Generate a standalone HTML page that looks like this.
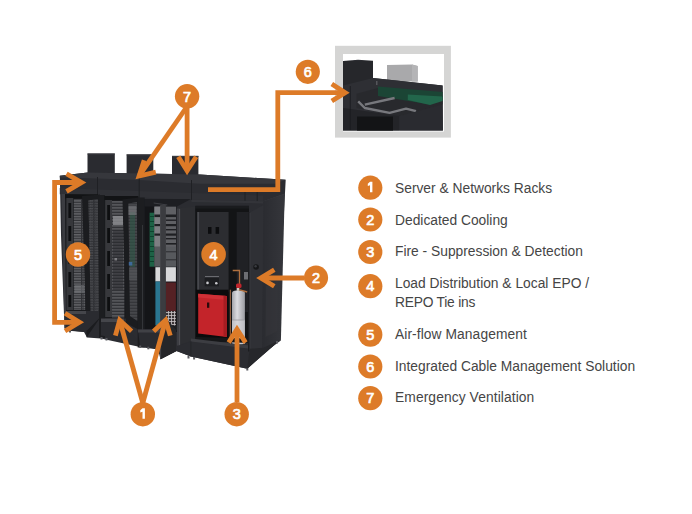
<!DOCTYPE html>
<html><head><meta charset="utf-8">
<style>
html,body{margin:0;padding:0;background:#fff;width:692px;height:514px;overflow:hidden}
svg{position:absolute;left:0;top:0}
.t{position:absolute;left:395px;font:13.8px "Liberation Sans",sans-serif;color:#454545;white-space:nowrap;line-height:18.8px}
</style></head><body>
<svg width="692" height="514" viewBox="0 0 692 514">
<defs>
  <pattern id="srv" width="8" height="3.2" patternUnits="userSpaceOnUse">
    <rect width="8" height="3.2" fill="#2e2f33"/>
    <rect y="0.3" width="8" height="1.3" fill="#76777b"/>
  </pattern>
  <pattern id="srv2" width="8" height="4" patternUnits="userSpaceOnUse">
    <rect width="8" height="4" fill="#34353a"/>
    <rect y="0.5" width="8" height="1.4" fill="#66676b"/>
  </pattern>
  <pattern id="srvA" width="12" height="2.6" patternUnits="userSpaceOnUse">
    <rect width="12" height="2.6" fill="#313236"/>
    <rect y="0.2" width="9" height="1.1" fill="#707175"/>
    <rect x="10" y="0.2" width="2" height="1.1" fill="#55565a"/>
  </pattern>
  <pattern id="srvB" width="12" height="3" patternUnits="userSpaceOnUse">
    <rect width="12" height="3" fill="#323337"/>
    <rect y="0.3" width="12" height="1.2" fill="#626367"/>
  </pattern>
  <pattern id="perf" width="2.5" height="2.5" patternUnits="userSpaceOnUse">
    <rect width="2.5" height="2.5" fill="#2c2d31"/>
    <rect width="1.2" height="1.2" fill="#44454a"/>
  </pattern>
  <pattern id="basket" width="3" height="3" patternUnits="userSpaceOnUse">
    <rect width="3" height="3" fill="#3a3436"/>
    <rect width="0.8" height="3" fill="#c9c4c6"/>
    <rect width="3" height="0.8" fill="#c9c4c6"/>
  </pattern>
  <linearGradient id="cyl" x1="0" x2="1" y1="0" y2="0">
    <stop offset="0" stop-color="#a4a5aa"/><stop offset="0.4" stop-color="#dcdce0"/><stop offset="1" stop-color="#9a9ba0"/>
  </linearGradient>
  <linearGradient id="side" x1="0" x2="1" y1="0" y2="0">
    <stop offset="0" stop-color="#2a2b30"/><stop offset="1" stop-color="#35363b"/>
  </linearGradient>
  <linearGradient id="red" x1="0" x2="1" y1="0" y2="0">
    <stop offset="0" stop-color="#c8232a"/><stop offset="0.8" stop-color="#c2212a"/><stop offset="1" stop-color="#9e1a20"/>
  </linearGradient>
  <linearGradient id="door1" x1="0" x2="0" y1="0" y2="1">
    <stop offset="0" stop-color="#3a3b40"/><stop offset="0.75" stop-color="#323338"/><stop offset="1" stop-color="#222327"/>
  </linearGradient>
</defs>

<!-- chimneys -->
<g fill="#2a2b30">
<rect x="87.5" y="153.5" width="27.3" height="22"/>
<rect x="126.6" y="154.4" width="26.7" height="24"/>
<rect x="172" y="155.9" width="26.4" height="24"/>
</g>
<g fill="#3a3b40">
<rect x="87.5" y="153.5" width="27.3" height="1"/>
<rect x="126.6" y="154.4" width="26.7" height="1"/>
<rect x="172" y="155.9" width="26.4" height="1"/>
</g>

<!-- main body silhouette -->
<polygon points="59.8,175.8 87.5,172.5 200,174.5 285.7,179.8 280.9,270 278.9,340.5 276.7,343 247.3,368.7 190.9,356.5 176.5,351 160.5,359.2 158,349.5 140,347 124,343.5 101,338.5 87,337.5 84,332 66,330.5 64.5,328 61,235" fill="#2b2c31"/>

<!-- top surface -->
<polygon points="59.8,175.8 87.5,172.5 200,174.5 285.7,179.8 275,183.8 200,183.8 139,180 97,178.5 59.8,177.5" fill="#36373c"/>
<!-- header band lower lip -->
<polygon points="59.8,188 138,191 263,195.5 263,201.2 191,199.8 138,197.5 59.8,194.3" fill="#2f3035"/>
<polygon points="263.3,201.2 284.7,193.5 285,196 265,204" fill="#3b3c41"/>
<g stroke="#1f2024" stroke-width="1">
<line x1="97.5" y1="177" x2="97.5" y2="195"/>
<line x1="139.2" y1="178" x2="139.2" y2="198"/>
<line x1="191.5" y1="180" x2="191.5" y2="200"/>
<line x1="245" y1="190" x2="245" y2="201"/>
<line x1="257.2" y1="190" x2="257.2" y2="202"/>
</g>

<!-- ===== module 1 ===== -->
<polygon points="61.5,194 65,194 66,330 64.5,328" fill="#3b3c41"/>
<polygon points="65,194.3 97.5,195.2 99,311 66,311" fill="#1a1b1e"/>
<rect x="65" y="194.3" width="33" height="4" fill="#121315"/>
<rect x="66.4" y="198" width="6.8" height="112" fill="#36373b"/>
<g fill="#0e0f11">
<rect x="68.4" y="203" width="2.8" height="15"/><rect x="68.4" y="226" width="2.8" height="15"/>
<rect x="68.4" y="249" width="2.8" height="15"/><rect x="68.4" y="272" width="2.8" height="15"/>
<rect x="68.4" y="295" width="2.8" height="12"/>
</g>
<rect x="73.8" y="199" width="11.5" height="111" fill="url(#srvA)"/>
<rect x="74.5" y="243" width="10" height="20" fill="#2a2b2e" opacity="0.6"/>
<rect x="74.5" y="285" width="10" height="8" fill="#7a7b7f" opacity="0.5"/>
<!-- door 1 -->
<polygon points="82,196 100,194.5 101,316.5 86.6,337.6" fill="#1b1c1f"/>
<polygon points="88.5,200.5 97.8,199 98.6,310 91,324" fill="url(#srvA)"/>
<polygon points="88.5,200.5 97.8,199 98.6,310 91,324" fill="url(#perf)" opacity="0.55"/>
<!-- module 1 plinth -->
<polygon points="64.5,311 99,311 101,316.5 87.5,330 84,332 66,330" fill="#2a2b30"/>
<polygon points="65,311 86,311 86,314 65,314" fill="#45464b"/>
<rect x="69" y="330" width="2" height="2.5" fill="#5a5b60"/>

<!-- ===== module 2 ===== -->
<rect x="99" y="195" width="6" height="143" fill="#1c1d20"/>
<polygon points="104.3,196 137.7,197.5 138.5,318.6 104.3,318.6" fill="#1a1b1e"/>
<rect x="104.3" y="196" width="34" height="4" fill="#121315"/>
<rect x="105.2" y="200" width="6.8" height="117" fill="#37383c"/>
<g fill="#0e0f11">
<rect x="107.2" y="205" width="2.8" height="15"/><rect x="107.2" y="228" width="2.8" height="15"/>
<rect x="107.2" y="251" width="2.8" height="15"/><rect x="107.2" y="274" width="2.8" height="15"/>
<rect x="107.2" y="297" width="2.8" height="14"/>
</g>
<rect x="112" y="201" width="12.3" height="117" fill="url(#srvB)"/>
<rect x="113" y="216" width="10" height="9" fill="#8d8e92" opacity="0.8"/>
<rect x="113" y="230" width="10" height="60" fill="#28292c" opacity="0.45"/>
<rect x="114.5" y="258" width="2.5" height="2.5" fill="#9a9a9e" opacity="0.7"/>
<!-- door 2 -->
<polygon points="122.5,199.5 139,197.5 139.4,330 126,323" fill="#1b1c1f"/>
<polygon points="128.4,203.5 137,202 137.4,321 130,316" fill="#38393d"/>
<polygon points="128.4,203.5 137,202 137.4,321 130,316" fill="url(#srvB)" opacity="0.5"/>
<rect x="130" y="212" width="5" height="55" fill="#2f5847" opacity="0.6"/>
<rect x="128.5" y="206" width="8" height="9" fill="#7d7e82" opacity="0.6"/>
<rect x="128.8" y="262" width="3.5" height="3.5" fill="#3f6fa8" opacity="0.85"/>
<rect x="129" y="268" width="8" height="12" fill="#5a5b5f" opacity="0.5"/>
<!-- module 2 plinth -->
<polygon points="104.3,318.6 124,318.6 124,326 139.4,341.4 101,335.6 101,318.6" fill="#2a2b30"/>
<polygon points="101,318.6 124,318.6 124,322 101,322" fill="#45464b"/>
<rect x="100.5" y="337" width="2" height="2.5" fill="#5a5b60"/>
<rect x="105.5" y="338" width="2" height="2.5" fill="#5a5b60"/>

<!-- ===== module 3 ===== -->
<rect x="137.7" y="197.5" width="7" height="150" fill="#1c1d20"/>
<line x1="142.5" y1="225" x2="142.5" y2="330" stroke="#3a3b40" stroke-width="0.8"/>
<polygon points="144.5,199 177,199 177,332 144.5,332" fill="#141518"/>
<polygon points="144.5,199 191,199 177,206.6 144.5,206.6" fill="#1d1e22"/>
<line x1="153.7" y1="203" x2="167.3" y2="205" stroke="#45464b" stroke-width="0.8"/>
<rect x="149.6" y="212.7" width="4.8" height="54" fill="#1e6246"/>
<g fill="#0e3f2c"><rect x="149.6" y="216" width="4.8" height="0.9"/><rect x="149.6" y="221" width="4.8" height="0.9"/><rect x="149.6" y="226" width="4.8" height="0.9"/><rect x="149.6" y="231" width="4.8" height="0.9"/><rect x="149.6" y="236" width="4.8" height="0.9"/><rect x="149.6" y="241" width="4.8" height="0.9"/><rect x="149.6" y="246" width="4.8" height="0.9"/><rect x="149.6" y="251" width="4.8" height="0.9"/><rect x="149.6" y="256" width="4.8" height="0.9"/><rect x="149.6" y="261" width="4.8" height="0.9"/></g>
<rect x="154.4" y="206.6" width="21.8" height="60" fill="#5f6064"/>
<rect x="154.4" y="206.6" width="6.1" height="40" fill="#7d7e82"/>
<g fill="#1e1f22">
  <rect x="154.4" y="214.5" width="21.8" height="2.6"/>
  <rect x="154.4" y="224" width="21.8" height="2.2"/>
  <rect x="154.4" y="233.5" width="21.8" height="2.2"/>
  <rect x="166" y="219.5" width="10.2" height="1.4"/>
  <rect x="166" y="229" width="10.2" height="1.4"/>
  <rect x="166" y="238" width="10.2" height="1.4"/>
  <rect x="166" y="243" width="10.2" height="1.6"/>
  <rect x="166" y="251" width="10.2" height="1.4"/>
  <rect x="166" y="259" width="10.2" height="1.4"/>
</g>
<rect x="154.4" y="246.6" width="21.8" height="20" fill="#505155" opacity="0.5"/>
<rect x="155.4" y="267.2" width="20.5" height="14.3" fill="#d8d8da"/>
<rect x="155.4" y="281.5" width="4.7" height="44" fill="#2a7590"/>
<polygon points="165.7,282.5 175.9,282.5 175.9,311 165.7,311" fill="#552124"/>
<rect x="165.7" y="311" width="10.2" height="16.5" fill="url(#basket)"/>
<rect x="159" y="325.5" width="18" height="5" fill="#1c1d20"/>
<!-- module 3 plinth -->
<polygon points="138,329.5 160,329.5 160,349 140,346.5" fill="#2a2b30"/>
<polygon points="138,329.5 160,329.5 160,332.5 138,332.5" fill="#404146"/>
<rect x="139.2" y="345.5" width="2" height="2.5" fill="#5a5b60"/>
<rect x="147.3" y="346.8" width="2" height="2.5" fill="#5a5b60"/>
<!-- door 3a (thin) -->
<polygon points="160.1,205 165.9,205 165.9,327.5 176,330 176.5,351 160.5,359.2" fill="#3b3c40"/>
<polygon points="165.9,318 176,330 176.5,351 160.5,359.2 160.3,335" fill="#252629"/>
<line x1="160.6" y1="206" x2="160.6" y2="358" stroke="#46474c" stroke-width="0.9"/>
<!-- door 3b -->
<polygon points="176.9,208.6 195.3,206.5 195.3,339.8 176.9,345.9" fill="#2d2e32"/>
<rect x="176.9" y="208.6" width="3.2" height="137" fill="#3c3d42"/>
<line x1="179.6" y1="209" x2="179.6" y2="345" stroke="#55565b" stroke-width="0.8"/>
<line x1="196.2" y1="206" x2="196.2" y2="340" stroke="#151619" stroke-width="1.6"/>

<!-- ===== module 4 ===== -->
<polygon points="191.5,199.8 263,201.2 263,203.5 191.5,202" fill="#333439"/>
<rect x="195.5" y="205.7" width="53.5" height="5" fill="#1a1b1e"/>
<rect x="195.5" y="208.6" width="53.5" height="130" fill="#131416"/>
<rect x="236.7" y="212" width="12.3" height="100" fill="#202125"/>
<rect x="197.3" y="212" width="31.3" height="79.7" fill="#2c2d31"/>
<rect x="197.3" y="212" width="1.8" height="79.7" fill="#47484d"/>
<rect x="208" y="227" width="3.5" height="6.8" fill="#0c0d0f"/>
<rect x="215.6" y="227" width="3.5" height="6.8" fill="#0c0d0f"/>
<rect x="204.7" y="278" width="14.3" height="8.3" fill="#1c1d20"/>
<rect x="205" y="276" width="14" height="1" fill="#6a6b70"/>
<circle cx="207.5" cy="282.9" r="1.3" fill="#c8c8cc"/>
<circle cx="216.3" cy="283.3" r="1.3" fill="#c8c8cc"/>
<!-- red box -->
<rect x="195.8" y="289.7" width="32.7" height="48" fill="#0b0b0c"/>
<polygon points="198.2,293.8 226.8,296 226.8,337 198.2,333.4" fill="#c3242a"/>
<polygon points="198.2,293.8 226.8,296 226.8,300 198.2,297.5" fill="#cf3036"/>
<polygon points="223.5,295.8 226.8,296 226.8,337 223.5,336.6" fill="#a51d22"/>
<rect x="207" y="302.5" width="2.3" height="5.3" fill="#2a0a0c"/>
<!-- cylinder & pipes -->
<rect x="229.8" y="289.7" width="1.2" height="50" fill="#8a5a3a"/>
<path d="M232.7 270.5 L239.5 270.5 L239.5 284" stroke="#b0703f" stroke-width="1.3" fill="none"/>
<rect x="244" y="272" width="4.3" height="7.5" fill="#6d6e73"/>
<rect x="232" y="290.5" width="12.9" height="54" rx="4.5" ry="2.5" fill="url(#cyl)"/>
<rect x="232" y="320" width="12.9" height="24" fill="#d2d2d7" opacity="0.6"/>
<line x1="232" y1="320" x2="244.9" y2="320" stroke="#9a9ba0" stroke-width="0.8"/>
<rect x="236" y="283.5" width="5.5" height="4.5" rx="1.5" fill="#c0252c"/>
<rect x="236.7" y="288" width="2.6" height="2.8" fill="#d8d0c8"/>
<path d="M239 289.7 L247.2 292" stroke="#b0703f" stroke-width="1.3"/>
<!-- module 4 floor + plinth -->
<polygon points="195.5,337 249,338.5 249,343 195.5,341" fill="#151618"/>
<polygon points="176.5,346.5 190.9,341.5 249.7,348.8 247.3,368.7 190.9,356.5 176.5,351" fill="#2b2c31"/>
<polygon points="190.9,338.5 249.7,345.5 249.7,348.8 190.9,341.5" fill="#3c3d42"/>
<line x1="190.9" y1="341.5" x2="190.9" y2="356.5" stroke="#222327" stroke-width="0.8"/>
<rect x="187.5" y="356" width="2" height="2.5" fill="#5a5b60"/>
<rect x="193.1" y="357" width="2" height="2.5" fill="#5a5b60"/>
<rect x="246.3" y="368" width="2" height="2.5" fill="#5a5b60"/>

<!-- right door + side -->
<polygon points="249,212.9 265.3,204 263.5,347.7 249,352" fill="#2f3035"/>
<rect x="248" y="212.5" width="1.6" height="139" fill="#1c1d20"/>
<line x1="250" y1="213" x2="250" y2="350" stroke="#3d3e43" stroke-width="0.7"/>
<polygon points="263.3,201.2 284.7,194 280.9,340.5 262,354" fill="url(#side)"/>
<polygon points="266,286 278,280 277.5,331 265.5,337" fill="#35363b" opacity="0.6"/>
<polygon points="249.7,348.8 263.5,347.7 278.9,340.5 276.7,343 247.3,368.7" fill="#26272b"/>
<circle cx="256.1" cy="267" r="2.8" fill="#151618"/><circle cx="255.6" cy="266.3" r="1.2" fill="#3a3b40"/>
<rect x="276" y="341" width="2" height="2.5" fill="#5a5b60"/>

<!-- ===== inset ===== -->
<rect x="335" y="45.8" width="115.9" height="91.8" fill="#d5d5d4"/>
<rect x="343" y="54" width="101" height="77.5" fill="#ffffff"/>
<polygon points="387,65 412,64.5 417.7,66 417.7,81.4 387,81.4" fill="#a9a9ab"/>
<polygon points="412,64.5 417.7,66 417.7,81.4 412,81.4" fill="#b4b4b6"/>
<polygon points="343,61 358,59.8 373,60.8 373,78 442.6,85.6 442.9,130.6 343,130.6" fill="#2b2c31"/>
<rect x="343" y="61" width="30" height="24.6" fill="#26272b"/>
<polygon points="343,85.6 373,78 442.6,85.6 442.6,104.6 399.5,116 343,108" fill="#2e2f34"/>
<polygon points="356.5,93.8 378,88 442.6,96 442.6,104.6 399.5,116 356.5,108" fill="#28292d"/>
<polygon points="378,86.4 442.6,92 442.6,100 430,104.6 378,96" fill="#1b4535"/>
<polygon points="407.8,94.5 442.6,96.5 442.6,101 430,105 407.8,100" fill="#22664b"/>
<path d="M358.2 101.3 L364.8 108 L389.6 112.9 L406 108.7 L416 111.2 M364.8 104.6 L394.6 98" stroke="#77787d" stroke-width="2.4" fill="none" stroke-linejoin="round"/>
<rect x="376" y="81" width="1.5" height="4" fill="#55565b"/>
<polygon points="343,108 399.5,116 399.5,130.6 343,130.6" fill="#232428"/>
<rect x="357" y="116.5" width="36" height="14.1" fill="#131416"/>
<line x1="350.3" y1="86" x2="350.3" y2="130" stroke="#1a1b1e" stroke-width="0.8"/>
<polygon points="399.5,116 442.6,104.6 442.9,130.6 399.5,130.6" fill="#2a2b30"/>

<!-- ===== arrows ===== -->
<g stroke="#dd7b28" stroke-width="4.8" fill="none" stroke-linecap="butt" stroke-linejoin="miter" stroke-miterlimit="10">
  <polyline points="81,182.5 54.6,182.5 54.6,322.3 79,322.3"/>
  <polyline points="66.5,173.8 81.6,182.6 66.5,191.4"/>
  <polyline points="65,313.3 79.5,322.3 65,331"/>
  <line x1="187.1" y1="108" x2="187.1" y2="170"/>
  <polyline points="178.3,156.8 187.1,170.8 196.2,156.8"/>
  <line x1="186" y1="108" x2="139.5" y2="175.3"/>
  <polyline points="144.2,160.2 139.1,176 155.8,172.2"/>
  <polyline points="208,189.6 277.8,189.6 277.8,92.7 345,92.7"/>
  <polyline points="331.8,84 345.2,92.7 331.8,101"/>
  <line x1="304" y1="278" x2="261" y2="278"/>
  <polyline points="274.3,269.8 260.8,278 274.3,286.2"/>
  <line x1="142.8" y1="403" x2="119.7" y2="320.5"/>
  <line x1="142.8" y1="403" x2="165.6" y2="320.5"/>
  <polyline points="115.4,335.6 119.7,320.1 131.6,331.2"/>
  <polyline points="153.6,331.2 165.6,320.1 170.3,335.6"/>
  <line x1="237" y1="402" x2="237" y2="329.5"/>
  <polyline points="228.7,342.6 237,329.2 245.6,342.6"/>
</g>

<!-- circles -->
<g fill="#dd7b28">
  <circle cx="78" cy="254.5" r="12.2"/>
  <circle cx="213.6" cy="254.3" r="12.3"/>
  <circle cx="316" cy="277.7" r="12.1"/>
  <circle cx="187.1" cy="96.3" r="12.2"/>
  <circle cx="307.8" cy="71.8" r="12.1"/>
  <circle cx="142.8" cy="414.2" r="12.2"/>
  <circle cx="236.7" cy="414.2" r="12.2"/>
  <circle cx="370.3" cy="187.7" r="12.1"/>
  <circle cx="370.3" cy="219.5" r="12.1"/>
  <circle cx="370.3" cy="252" r="12.1"/>
  <circle cx="370.3" cy="286.2" r="12.1"/>
  <circle cx="370.3" cy="334.6" r="12.1"/>
  <circle cx="370.3" cy="366.5" r="12.1"/>
  <circle cx="370.3" cy="398.2" r="12.1"/>
</g>
<g fill="#fff" stroke="#fff" stroke-width="0.7" font-family="Liberation Sans" font-size="14.5" text-anchor="middle">
  <text x="78" y="259.8">5</text>
  <text x="213.6" y="259.5">4</text>
  <text x="316" y="282.8">2</text>
  <text x="187.1" y="101.5">7</text>
  <text x="307.8" y="77">6</text>
  <text x="236.7" y="419.4">3</text>
  <text x="370.3" y="224.7">2</text>
  <text x="370.3" y="257.2">3</text>
  <text x="370.3" y="291.2">4</text>
  <text x="370.3" y="339.8">5</text>
  <text x="370.3" y="371.7">6</text>
  <text x="370.3" y="403.4">7</text>
</g>
<g fill="#fff">
  <path d="M370 181.8 L372.4 181.8 L372.4 192.2 L370 192.2 L370 185.2 L367.8 186 L367.8 183.8 Z"/>
  <path d="M142.5 408.3 L144.9 408.3 L144.9 418.7 L142.5 418.7 L142.5 411.7 L140.3 412.5 L140.3 410.3 Z"/>
</g>
</svg>
<div class="t" style="top:179.8px">Server &amp; Networks Racks</div>
<div class="t" style="top:211.5px">Dedicated Cooling</div>
<div class="t" style="top:243.3px">Fire - Suppression &amp; Detection</div>
<div class="t" style="top:274.9px">Load Distribution &amp; Local EPO /</div>
<div class="t" style="top:293.9px;letter-spacing:-0.22px">REPO Tie ins</div>
<div class="t" style="top:325.8px;letter-spacing:0.08px">Air-flow Management</div>
<div class="t" style="top:357.9px">Integrated Cable Management Solution</div>
<div class="t" style="top:388.8px;letter-spacing:0.1px">Emergency Ventilation</div>
</body></html>
